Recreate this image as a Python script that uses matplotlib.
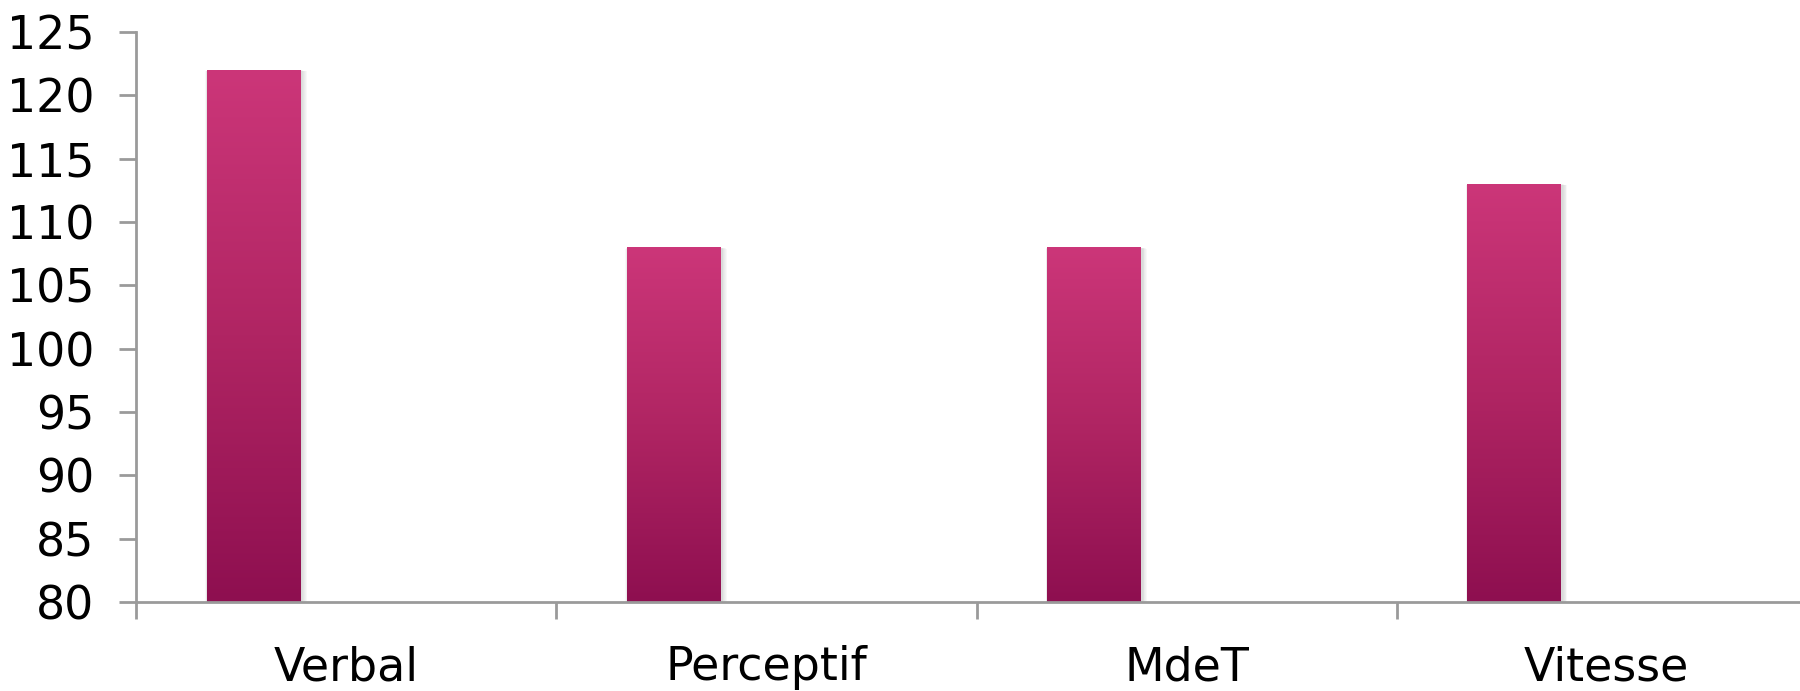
import numpy as np
import matplotlib.pyplot as plt
from matplotlib.colors import LinearSegmentedColormap
from matplotlib.patches import Rectangle
from matplotlib.ticker import FixedLocator

categories = ['Verbal', 'Perceptif', 'MdeT', 'Vitesse']
scores = [122, 108, 108, 113]
y_ticks = [80, 85, 90, 95, 100, 105, 110, 115, 120, 125]

plt.rcParams['font.family'] = ['DejaVu Sans']

fig = plt.figure(figsize=(18, 6.91), dpi=100)
# the plot area runs past the right edge of the figure
ax = fig.add_axes([0.0756, 0.1288, 0.9338, 0.8249])

x = np.arange(len(categories))
bar_w = 0.2235
bar_x = x - 0.5 + 0.28

grad = LinearSegmentedColormap.from_list('pinkgrad', ['#8e0f50', '#b02563', '#cc3679'])
ramp = np.linspace(0, 1, 256).reshape(-1, 1)

bars = ax.bar(bar_x, [s - 80 for s in scores], bottom=80, width=bar_w,
              color='none', edgecolor='none', zorder=3)

for b in bars:
    x0, y0 = b.get_x(), b.get_y()
    w, h = b.get_width(), b.get_height()
    # soft drop shadow
    for k in range(1, 7):
        dx = 0.0025 * k
        dy = 0.09 * k
        ax.add_patch(Rectangle((x0 - dx * 0.4 + 0.002, y0 - dy), w + dx * 1.2, h + dy * 0.8,
                               facecolor='#808080', edgecolor='none', alpha=0.05, zorder=2))
    im = ax.imshow(ramp, extent=[x0, x0 + w, y0, y0 + h], origin='lower',
                   aspect='auto', cmap=grad, zorder=3, interpolation='bilinear')
    im.set_clip_path(b)

ax.set_xlim(-0.5, 3.5)
ax.set_ylim(80, 125)

ax.set_yticks(y_ticks)
ax.xaxis.set_major_locator(FixedLocator(np.arange(-0.5, 4.0, 1.0)))
ax.xaxis.set_minor_locator(FixedLocator(x))
ax.set_xticklabels([])
ax.set_xticklabels(categories, minor=True)

ax.tick_params(axis='y', which='major', length=12, width=2, color='#9a9a9a',
               labelsize=33, pad=18, labelcolor='black')
ax.tick_params(axis='x', which='major', length=12, width=2, color='#9a9a9a')
ax.tick_params(axis='x', which='minor', length=0, labelsize=33, pad=31, labelcolor='black')

for side in ['top', 'right']:
    ax.spines[side].set_visible(False)
for side in ['left', 'bottom']:
    ax.spines[side].set_color('#9a9a9a')
    ax.spines[side].set_linewidth(2)
ax.spines['bottom'].set_zorder(4)

fig.savefig('out.png', dpi=100)
